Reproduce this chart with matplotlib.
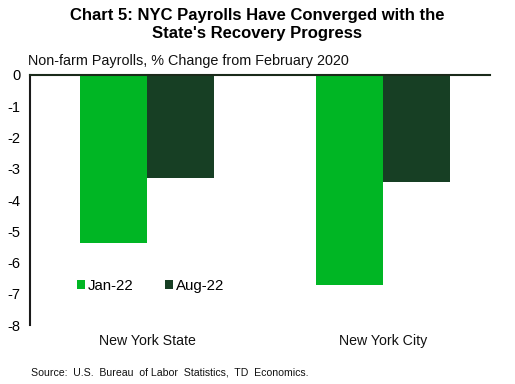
import matplotlib.pyplot as plt
import numpy as np

plt.rcParams['font.family'] = ['Liberation Sans', 'DejaVu Sans']

# 数据
categories = ['New York State', 'New York City']
series_names = ['Jan-22', 'Aug-22']
jan22 = [-5.37, -6.72]
aug22 = [-3.31, -3.41]
yticks = [0, -1, -2, -3, -4, -5, -6, -7, -8]

colors = ['#00B624', '#173F24']

fig = plt.figure(figsize=(5.15, 3.84), dpi=100)
ax = fig.add_axes([0.0583, 0.1536, 0.8927, 0.6511])

x = np.arange(len(categories))
w = 0.284
ax.bar(x - w / 2, jan22, w, color=colors[0], label=series_names[0])
ax.bar(x + w / 2, aug22, w, color=colors[1], label=series_names[1])

ax.set_xlim(-0.496, 1.453)
ax.set_ylim(-8, 0)
ax.set_yticks(yticks)
ax.set_yticklabels([str(v) for v in yticks], fontsize=10.5)
ax.set_xticks([])
ax.tick_params(axis='y', length=0, pad=7)

for s in ['right', 'bottom']:
    ax.spines[s].set_visible(False)
ax.spines['left'].set_color('#1a1a1a')
ax.spines['left'].set_linewidth(1.5)
ax.spines['top'].set_color('#1a2a1a')
ax.spines['top'].set_linewidth(1.5)

# 类别标签
for xi, name in zip(x, categories):
    ax.text(xi, -8.5, name, ha='center', va='center', fontsize=10.2, color='#111111')

# 图例
ax.legend(loc='lower left', bbox_to_anchor=(0.072, 0.075), ncol=2, frameon=False,
          fontsize=10.8, handlelength=0.55, handleheight=0.55, handletextpad=0.2,
          columnspacing=2.1)

# 标题
fig.text(0.5, 0.98, "Chart 5: NYC Payrolls Have Converged with the\nState's Recovery Progress",
         ha='center', va='top', fontsize=12, fontweight='bold', linespacing=1.3)
fig.text(0.054, 0.84, 'Non-farm Payrolls, % Change from February 2020',
         ha='left', va='center', fontsize=10.4, color='#111111')
fig.text(0.06, 0.03, 'Source:  U.S.  Bureau  of Labor  Statistics,  TD  Economics.',
         ha='left', va='center', fontsize=7.55, color='#111111')

fig.savefig('out.png', dpi=100)
